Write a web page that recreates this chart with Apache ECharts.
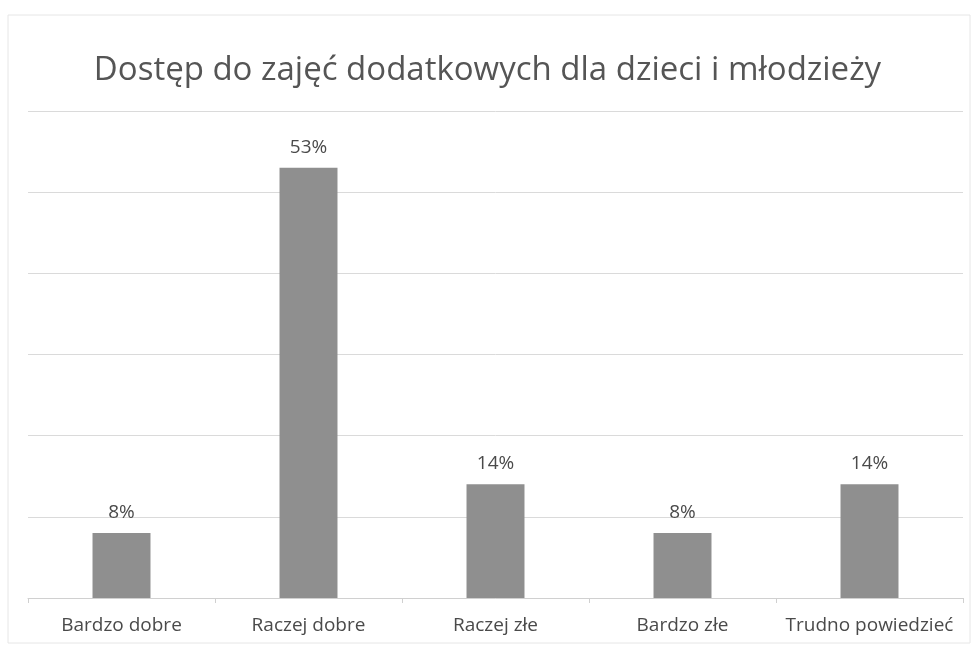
<!DOCTYPE html>
<html><head><meta charset="utf-8">
<script src="https://cdn.jsdelivr.net/npm/echarts@6/dist/echarts.min.js"></script>
<style>html,body{margin:0;padding:0;background:#fff}#c{width:975px;height:647px}</style>
</head><body><div id="c"></div>
<script>
const titleText = 'Dostęp do zajęć dodatkowych dla dzieci i młodzieży';
const categories = ['Bardzo dobre', 'Raczej dobre', 'Raczej złe', 'Bardzo złe', 'Trudno powiedzieć'];
const values = [8, 53, 14, 8, 14];
const chart = echarts.init(document.getElementById('c'));
chart.setOption({
  backgroundColor: '#ffffff',
  animation: false,
  title: {
    text: titleText, left: 'center', top: 49,
    textStyle: { fontFamily: 'Open Sans', fontSize: 33, fontWeight: 'normal', color: '#555555' }
  },
  graphic: [{ type: 'rect', shape: { x: 8, y: 15, width: 962, height: 628 }, style: { fill: 'none', stroke: '#e6e6e6', lineWidth: 1 } }],
  grid: { left: 28, right: 12, top: 111, bottom: 49 },
  xAxis: {
    type: 'category', data: categories,
    axisLine: { lineStyle: { color: '#d0d0d0' } },
    axisTick: { show: true, alignWithLabel: false, length: 5, lineStyle: { color: '#d0d0d0' } },
    axisLabel: { fontFamily: 'Open Sans', fontSize: 19, color: '#4a4a4a', margin: 18, interval: 0 }
  },
  yAxis: {
    type: 'value', min: 0, max: 60, interval: 10,
    axisLabel: { show: false }, axisLine: { show: false }, axisTick: { show: false },
    splitLine: { lineStyle: { color: '#dadada' } }
  },
  series: [{
    type: 'bar', data: values, barWidth: '31%',
    itemStyle: { color: '#8f8f8f' },
    label: { show: true, position: 'top', distance: 11, formatter: '{c}%', fontFamily: 'Open Sans', fontSize: 19, color: '#4a4a4a' }
  }]
});
</script></body></html>
